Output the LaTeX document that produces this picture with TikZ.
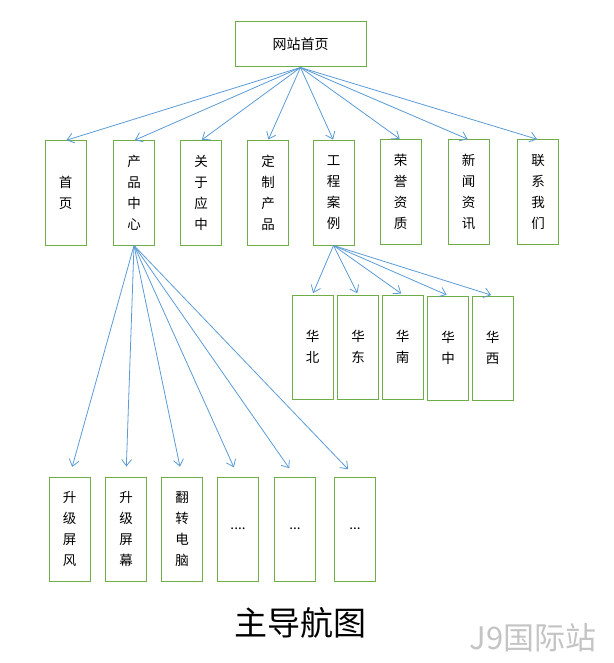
\documentclass[tikz,border=0pt]{standalone}
\usepackage{fontspec}
\setmainfont{Noto Sans CJK SC}
\usetikzlibrary{arrows.meta}
\definecolor{boxgreen}{HTML}{70AD47}
\definecolor{linkblue}{HTML}{5B9BD5}
\definecolor{markgray}{HTML}{C4C4C4}
\tikzset{
  topbox/.style={draw=boxgreen, line width=1pt, minimum width=131pt, minimum height=45pt, inner sep=0pt, font=\fontsize{14}{16}\selectfont},
  vbox/.style={draw=boxgreen, line width=1pt, minimum width=41pt, minimum height=104pt, inner sep=0pt, align=center, font=\fontsize{13.5}{21}\selectfont},
  link/.style={draw=linkblue, line width=0.8pt, -{Straight Barb[length=6.5pt,width=10pt]}}
}
\begin{document}
\begin{tikzpicture}[x=1pt,y=-1pt]
\useasboundingbox (0,0) rectangle (613,663);
\node[topbox] (top) at (300.5,44.5) {网站首页};
% level 1
\node[vbox] (sy) at (65.5,193) {首\\页};
\node[vbox] (pc) at (134,193) {产\\品\\中\\心};
\node[vbox] (gy) at (201,193) {关\\于\\应\\中};
\node[vbox] (dz) at (268,193) {定\\制\\产\\品};
\node[vbox] (gc) at (333.5,193) {工\\程\\案\\例};
\node[vbox] (ry) at (400.5,192) {荣\\誉\\资\\质};
\node[vbox] (xw) at (468.5,192) {新\\闻\\资\\讯};
\node[vbox] (lx) at (538,192) {联\\系\\我\\们};
% level 2
\node[vbox] (hb) at (312.5,347) {华\\北};
\node[vbox] (hd) at (358,347) {华\\东};
\node[vbox] (hn) at (402.5,347) {华\\南};
\node[vbox] (hz) at (448,348) {华\\中};
\node[vbox] (hx) at (492.5,348) {华\\西};
% level 3
\node[vbox] (p1) at (69.5,529) {升\\级\\屏\\风};
\node[vbox] (p2) at (126,529) {升\\级\\屏\\幕};
\node[vbox] (p3) at (182,529) {翻\\转\\电\\脑};
\node[vbox] (p4) at (238,529) {....};
\node[vbox] (p5) at (295,529) {...};
\node[vbox] (p6) at (355,529) {...};
% title and mark
\node[font=\fontsize{33}{36}\selectfont] (title) at (300,623) {主导航图};
\node[font=\fontsize{31}{34}\selectfont, text=markgray, anchor=east] (mark) at (600,638) {J9国际站};
% connectors
\foreach \n in {sy,pc,gy,dz,gc,ry,xw,lx}
  \draw[link, shorten >=1pt] (top.south) -- (\n.north);
\foreach \n in {hb,hd,hn,hz,hx}
  \draw[link, shorten >=1.5pt] (gc.south) -- (\n.north);
\foreach \n in {p1,p2,p3,p4,p5,p6}
  \draw[link, shorten >=10pt] (pc.south) -- (\n.north);
\end{tikzpicture}
\end{document}
